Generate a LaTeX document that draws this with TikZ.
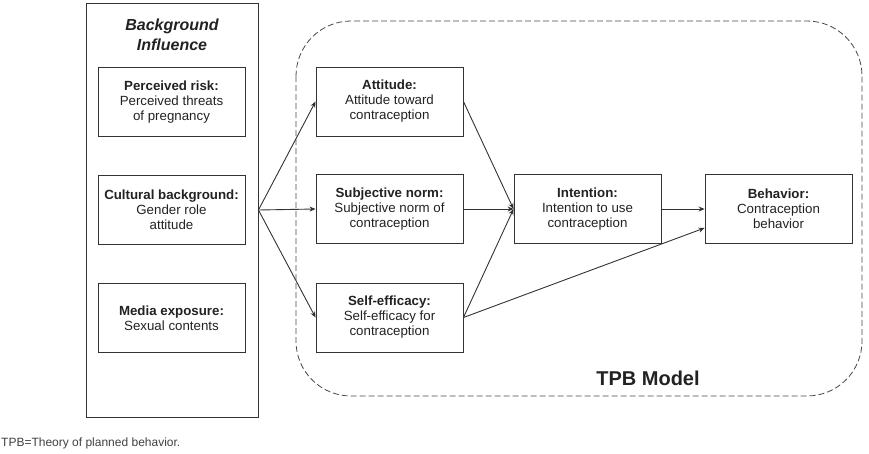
\documentclass[tikz,border=0pt]{standalone}
\usepackage{fontspec}
\setmainfont{Liberation Sans}
\usetikzlibrary{arrows.meta}
\definecolor{ink}{HTML}{222222}
\definecolor{edge}{HTML}{333333}
\begin{document}
\begin{tikzpicture}[x=1pt,y=-1pt,
  box/.style={draw=edge, line width=0.9pt, minimum width=147pt, minimum height=69pt,
    align=center, inner sep=2pt, text=ink,
    font=\fontsize{13.3}{15}\selectfont},
  arr/.style={draw=edge, line width=0.9pt, -{Stealth[length=6pt,width=5pt]}},
  dashedframe/.style={draw=edge!90, line width=0.8pt, dash pattern=on 6pt off 3pt, rounded corners=55pt}]
\useasboundingbox (0,0) rectangle (869,453);
% background influence column
\node[draw=edge, line width=0.9pt, minimum width=172pt, minimum height=414pt, inner sep=0pt] (bg) at (172,210) {};
\node[text=ink, align=center, font=\fontsize{16}{20}\selectfont\bfseries\itshape] (bgt) at (172,35) {Background\\Influence};
\node[box] (risk) at (171.5,102) {\textbf{Perceived risk:}\\Perceived threats\\of pregnancy};
\node[box] (cult) at (171.5,209.5) {\textbf{Cultural background:}\\Gender role\\attitude};
\node[box] (media) at (171.5,318) {\textbf{Media exposure:}\\Sexual contents};
% TPB frame
\draw[dashedframe] (296,21) rectangle (862,396);
\node[text=ink, font=\fontsize{20}{24}\selectfont\bfseries] (tpb) at (648,378) {TPB Model};
% TPB boxes
\node[box] (att) at (389.5,101.5) {\textbf{Attitude:}\\Attitude toward\\contraception};
\node[box] (sn) at (389.5,209) {\textbf{Subjective norm:}\\Subjective norm of\\contraception};
\node[box] (se) at (389.5,317.5) {\textbf{Self-efficacy:}\\Self-efficacy for\\contraception};
\node[box] (int) at (587.5,209) {\textbf{Intention:}\\Intention to use\\contraception};
\node[box] (beh) at (778.5,209) {\textbf{Behavior:}\\Contraception\\behavior};
% connectors
\draw[arr] (bg.east) -- (att.west);
\draw[arr] (bg.east) -- (sn.west);
\draw[arr] (bg.east) -- (se.west);
\draw[arr] (att.east) -- (int.west);
\draw[arr] (sn.east) -- (int.west);
\draw[arr] (se.east) -- (int.west);
\draw[arr] (se.east) -- ([yshift=-19pt]beh.west);
\draw[arr] (int.east) -- (beh.west);
% caption
\node[anchor=west, text=black!75, font=\fontsize{12}{14}\selectfont, inner sep=0pt] (cap) at (1,443) {TPB=Theory of planned behavior.};
\end{tikzpicture}
\end{document}
